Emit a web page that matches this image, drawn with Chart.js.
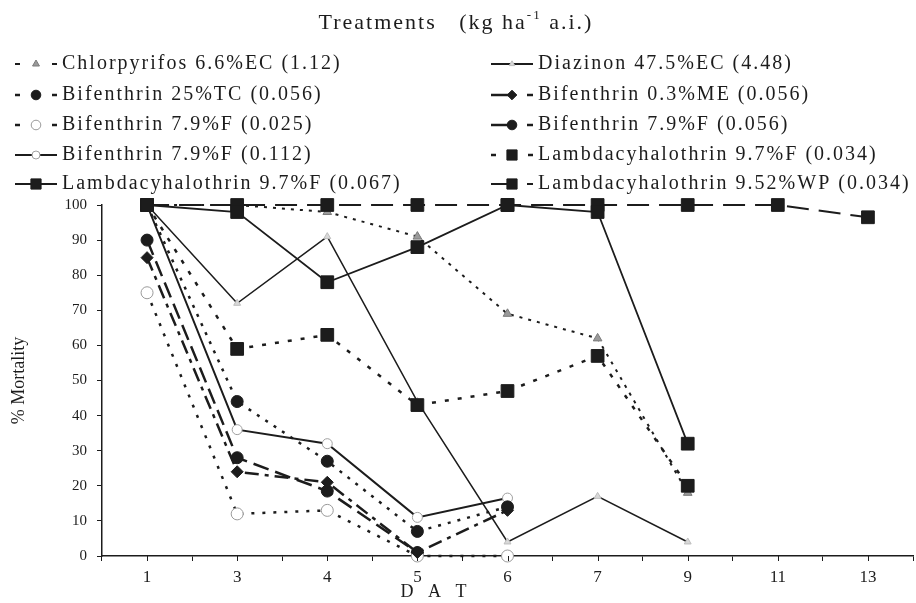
<!DOCTYPE html>
<html>
<head>
<meta charset="utf-8">
<script src="https://cdn.jsdelivr.net/npm/chart.js@4.4.0/dist/chart.umd.min.js"></script>
<style>
  body { margin: 0; background: #fff; }
  canvas { display: block; }
</style>
</head>
<body>
<canvas id="mortalityChart" width="916" height="603"></canvas>
<script>
// days after treatment
const days = ['1', '3', '4', '5', '6', '7', '9', '11', '13'];

// % mortality per treatment
const chlorpyrifos = [100, 100, 98, 91, 69, 62, 18, null, null];
const diazinon     = [100, 72, 91, 44, 4, 17, 4, null, null];
const bif25TC      = [100, 44, 27, 7, 14];
const bif03ME      = [85, 24, 21, 1, 13];
const bif79F025    = [75, 12, 13, 0, 0];
const bif79F056    = [90, 28, 18.5, 1];
const bif79F112    = [100, 36, 32, 11, 16.5];
const lambda97F034 = [100, 59, 63, 43, 47, 57, 20];
const lambda97F067 = [100, 98, 78, 88, 100, 98, 32];
const lambda952WP  = [100, 100, 100, 100, 100, 100, 100, 100, 96.5];

const yTicks = [0, 10, 20, 30, 40, 50, 60, 70, 80, 90, 100];

const SERIF = "'Liberation Serif', 'DejaVu Serif', serif";
const INK = '#1c1c1c';

function series(label, data, dash, width, point, radius, fill, edge, key) {
    return {
        label: label,
        data: data,
        borderColor: INK,
        borderWidth: width,
        borderDash: dash,
        pointStyle: point,
        pointRadius: radius,
        pointBackgroundColor: fill,
        pointBorderColor: edge,
        pointBorderWidth: 1,
        tension: 0,
        spanGaps: true,
        fill: false,
        clip: false,
        // squares sit on top of the other markers
        order: point === 'rect' ? 0 : 1,
        keyStyle: key
    };
}

const datasets = [
    series('Chlorpyrifos 6.6%EC (1.12)', chlorpyrifos, [3, 6], 2, 'triangle', 5, '#9a9a9a', '#7a7a7a', 'dots'),
    series('Diazinon 47.5%EC (4.48)', diazinon, [], 1.5, 'triangle', 4, '#d8d8d8', '#bdbdbd', 'solid'),
    series('Bifenthrin 25%TC (0.056)', bif25TC, [3, 7], 2.5, 'circle', 6, INK, INK, 'dots'),
    series('Bifenthrin 0.3%ME (0.056)', bif03ME, [14, 6, 4, 6], 2.5, 'rectRot', 6, INK, INK, 'dashdot'),
    series('Bifenthrin 7.9%F (0.025)', bif79F025, [3, 8], 2.5, 'circle', 6, '#ffffff', '#9a9a9a', 'dots'),
    series('Bifenthrin 7.9%F (0.056)', bif79F056, [16, 7], 2.5, 'circle', 6, INK, INK, 'dashdot'),
    series('Bifenthrin 7.9%F (0.112)', bif79F112, [], 2, 'circle', 5, '#ffffff', '#a0a0a0', 'solid'),
    series('Lambdacyhalothrin 9.7%F (0.034)', lambda97F034, [4, 9], 2.5, 'rect', 9, INK, INK, 'dots'),
    series('Lambdacyhalothrin 9.7%F (0.067)', lambda97F067, [], 1.8, 'rect', 9, INK, INK, 'solid'),
    series('Lambdacyhalothrin 9.52%WP (0.034)', lambda952WP, [22, 10], 2, 'rect', 9, INK, INK, 'dashdot')
];

function seg(ctx, a, b, y) {
    ctx.beginPath();
    ctx.moveTo(a, y);
    ctx.lineTo(b, y);
    ctx.stroke();
}

// title, two-column legend and the x axis caption
const legendBlock = {
    id: 'legendBlock',
    afterDraw(chart) {
        const ctx = chart.ctx;
        ctx.save();
        ctx.fillStyle = INK;
        ctx.textBaseline = 'middle';
        ctx.textAlign = 'left';

        // Treatments (kg ha-1 a.i.)
        const big = '22px ' + SERIF;
        const small = '13px ' + SERIF;
        const partA = 'Treatments   (kg ha';
        const partB = ' a.i.)';
        ctx.letterSpacing = '2px';
        ctx.font = big;
        const wA = ctx.measureText(partA).width;
        const wB = ctx.measureText(partB).width;
        ctx.font = small;
        const wSup = ctx.measureText('-1').width;
        let x = 456 - (wA + wSup + wB) / 2;
        ctx.font = big;
        ctx.fillText(partA, x, 23);
        x += wA;
        ctx.font = small;
        ctx.fillText('-1', x, 16);
        x += wSup;
        ctx.font = big;
        ctx.fillText(partB, x, 23);

        const rowY = [64, 95, 125, 155, 184];
        const cols = [{ x0: 15, x1: 57, tx: 62 }, { x0: 491, x1: 533, tx: 538 }];
        chart.data.datasets.forEach((ds, i) => {
            const col = cols[i % 2];
            const y = rowY[Math.floor(i / 2)];
            const mid = (col.x0 + col.x1) / 2;
            ctx.strokeStyle = INK;
            ctx.lineWidth = Math.max(ds.borderWidth, 2);
            if (ds.keyStyle === 'solid') {
                seg(ctx, col.x0, col.x1, y);
            } else if (ds.keyStyle === 'dashdot') {
                seg(ctx, col.x0, mid, y);
                seg(ctx, col.x1 - 6, col.x1, y);
            } else {
                seg(ctx, col.x0, col.x0 + 5, y);
                seg(ctx, col.x1 - 5, col.x1, y);
            }
            ctx.fillStyle = ds.pointBackgroundColor;
            ctx.strokeStyle = ds.pointBorderColor;
            ctx.lineWidth = 1;
            Chart.helpers.drawPoint(ctx, {
                pointStyle: ds.pointStyle,
                radius: ds.pointRadius * 0.8,
                rotation: 0,
                borderWidth: 1
            }, mid, y);
            ctx.fillStyle = INK;
            ctx.font = '20px ' + SERIF;
            ctx.letterSpacing = '2px';
            ctx.fillText(ds.label, col.tx, y);
        });

        ctx.font = '18px ' + SERIF;
        ctx.letterSpacing = '5px';
        ctx.textAlign = 'center';
        ctx.fillText('D A T', 436, 592);
        ctx.restore();
    }
};

// short ticks under each day as well as between days
const dayTicks = {
    id: 'dayTicks',
    afterDraw(chart) {
        const xs = chart.scales.x;
        const ctx = chart.ctx;
        ctx.save();
        ctx.strokeStyle = INK;
        ctx.lineWidth = 1;
        days.forEach((d, i) => {
            const px = Math.round(xs.getPixelForTick(i)) + 0.5;
            ctx.beginPath();
            ctx.moveTo(px, xs.top);
            ctx.lineTo(px, xs.top + 5);
            ctx.stroke();
        });
        ctx.restore();
    }
};

new Chart(document.getElementById('mortalityChart'), {
    type: 'line',
    data: { labels: days, datasets: datasets },
    plugins: [legendBlock, dayTicks],
    options: {
        responsive: false,
        animation: false,
        devicePixelRatio: 1,
        layout: { autoPadding: false, padding: { top: 205, left: 8, right: 3, bottom: 0 } },
        plugins: {
            legend: { display: false },
            tooltip: { enabled: false }
        },
        scales: {
            x: {
                type: 'category',
                offset: true,
                afterFit(scale) { scale.height = 47; },
                grid: { drawOnChartArea: false, offset: true, tickLength: 5, color: INK },
                border: { color: INK, width: 1.5 },
                ticks: { color: INK, font: { family: SERIF, size: 17 }, padding: 6, maxRotation: 0 }
            },
            y: {
                min: 0,
                max: 100,
                afterFit(scale) { scale.width = 94; },
                afterBuildTicks(scale) { scale.ticks = yTicks.map(v => ({ value: v })); },
                grid: { drawOnChartArea: false, tickLength: 5, color: INK },
                border: { color: INK, width: 1.5 },
                ticks: { color: INK, font: { family: SERIF, size: 15 }, padding: 10 },
                title: {
                    display: true,
                    text: '% Mortality',
                    color: INK,
                    font: { family: SERIF, size: 18 },
                    padding: { top: 0, bottom: 0 }
                }
            }
        }
    }
});
</script>
</body>
</html>
